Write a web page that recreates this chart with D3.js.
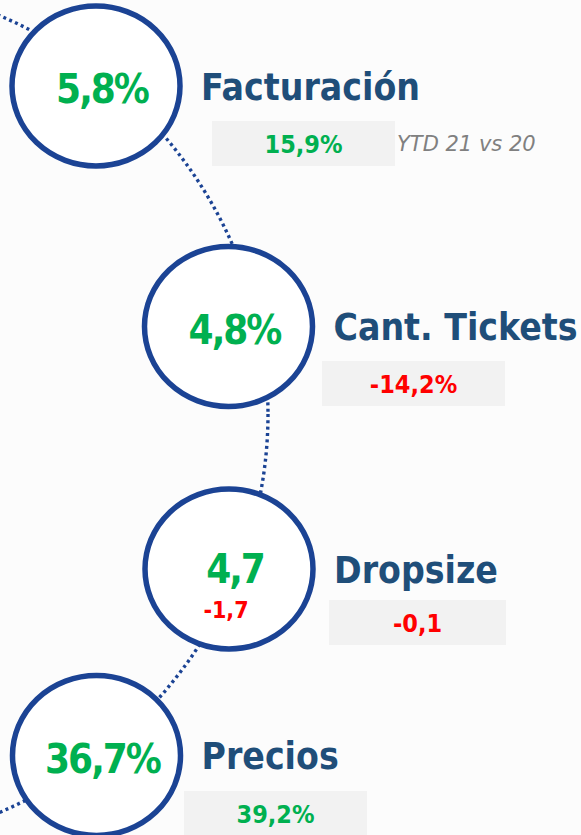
<!DOCTYPE html>
<html>
<head>
<meta charset="utf-8">
<script src="https://cdn.jsdelivr.net/npm/d3@7"></script>
<style>
    html, body { margin: 0; padding: 0; background: #fcfcfc; }
    svg { display: block; }
</style>
</head>
<body>
<svg id="chart"></svg>
<script>
// Datos del gráfico
const labels = ["Facturación", "Cant. Tickets", "Dropsize", "Precios"];
const circleValues = [5.8, 4.8, 4.7, 36.7];
const circleUnits = ["%", "%", "", "%"];
const subValues = [null, null, -1.7, null];
const boxValues = [15.9, -14.2, -0.1, 39.2];
const boxUnits = ["%", "%", "", "%"];
const boxNote = "YTD 21 vs 20";

const width = 581, height = 835;

const green = "#00b050", red = "#ff0000", navy = "#1f4e79", ring = "#1b4394";

// formato con coma decimal y guion normal
const locale = d3.formatLocale({decimal: ",", thousands: ".", grouping: [3], currency: ["", ""], minus: "-"});
const fmt = locale.format(".1f");
const colorOf = v => v >= 0 ? green : red;

// posiciones de cada paso (layout)
const cx = d3.scaleOrdinal(labels, [96, 228.5, 229, 96.5]);
const cy = d3.scaleOrdinal(labels, [86, 326.5, 569, 755.5]);
const boxX = d3.scaleOrdinal(labels, [212, 322, 329, 184]);
const boxW = d3.scaleOrdinal(labels, [183, 183, 177, 183]);
const boxY = d3.scaleOrdinal(labels, [121, 361, 600, 791]);
const boxH = 45;
const rx = 84, ry = 80;

const rows = labels.map((l, i) => ({
    label: l,
    value: circleValues[i],
    unit: circleUnits[i],
    sub: subValues[i],
    box: boxValues[i],
    boxUnit: boxUnits[i]
}));

const svg = d3.select("#chart")
    .attr("width", width)
    .attr("height", height)
    .style("font-family", "'DejaVu Sans Condensed', 'DejaVu Sans', sans-serif");

svg.append("rect")
    .attr("width", width).attr("height", height)
    .attr("fill", "#fcfcfc");

// arco punteado detrás de los círculos
svg.append("ellipse")
    .attr("cx", -184).attr("cy", 414)
    .attr("rx", 452).attr("ry", 436)
    .attr("fill", "none")
    .attr("stroke", ring)
    .attr("stroke-width", 3.4)
    .attr("stroke-dasharray", "3,3.4");

// cajas grises
svg.selectAll(".box")
    .data(rows)
    .enter().append("rect")
    .attr("class", "box")
    .attr("x", d => boxX(d.label))
    .attr("y", d => boxY(d.label))
    .attr("width", d => boxW(d.label))
    .attr("height", boxH)
    .attr("fill", "#f2f2f2");

svg.selectAll(".box-value")
    .data(rows)
    .enter().append("text")
    .attr("class", "box-value")
    .attr("x", d => boxX(d.label) + boxW(d.label) / 2)
    .attr("y", d => boxY(d.label) + boxH / 2 + 1)
    .attr("text-anchor", "middle")
    .attr("dominant-baseline", "central")
    .attr("font-size", 25)
    .attr("font-weight", "bold")
    .attr("fill", d => colorOf(d.box))
    .text(d => fmt(d.box) + d.boxUnit);

svg.append("text")
    .attr("x", boxX(labels[0]) + boxW(labels[0]) + 2)
    .attr("y", boxY(labels[0]) + boxH / 2)
    .attr("dominant-baseline", "central")
    .attr("font-family", "'DejaVu Sans', sans-serif")
    .attr("font-style", "italic")
    .attr("font-size", 21)
    .attr("fill", "#808080")
    .text(boxNote);

// círculos
svg.selectAll(".step")
    .data(rows)
    .enter().append("ellipse")
    .attr("class", "step")
    .attr("cx", d => cx(d.label))
    .attr("cy", d => cy(d.label))
    .attr("rx", rx).attr("ry", ry)
    .attr("fill", "#ffffff")
    .attr("stroke", ring)
    .attr("stroke-width", 5.5);

svg.selectAll(".value")
    .data(rows)
    .enter().append("text")
    .attr("class", "value")
    .attr("x", d => cx(d.label) + 6)
    .attr("y", d => cy(d.label) + (d.sub === null ? 3 : 0))
    .attr("text-anchor", "middle")
    .attr("dominant-baseline", "central")
    .attr("font-size", 40)
    .attr("font-weight", "bold")
    .attr("letter-spacing", -2)
    .attr("fill", d => colorOf(d.value))
    .text(d => fmt(d.value) + d.unit);

svg.selectAll(".sub")
    .data(rows.filter(d => d.sub !== null))
    .enter().append("text")
    .attr("class", "sub")
    .attr("x", d => cx(d.label) - 3)
    .attr("y", d => cy(d.label) + 41)
    .attr("text-anchor", "middle")
    .attr("dominant-baseline", "central")
    .attr("font-size", 23)
    .attr("font-weight", "bold")
    .attr("fill", d => colorOf(d.sub))
    .text(d => fmt(d.sub));

// títulos
svg.selectAll(".label")
    .data(rows)
    .enter().append("text")
    .attr("class", "label")
    .attr("x", d => cx(d.label) + 105)
    .attr("y", d => cy(d.label) + 1)
    .attr("dominant-baseline", "central")
    .attr("font-size", 37)
    .attr("font-weight", "bold")
    .attr("fill", navy)
    .text(d => d.label);
</script>
</body>
</html>
